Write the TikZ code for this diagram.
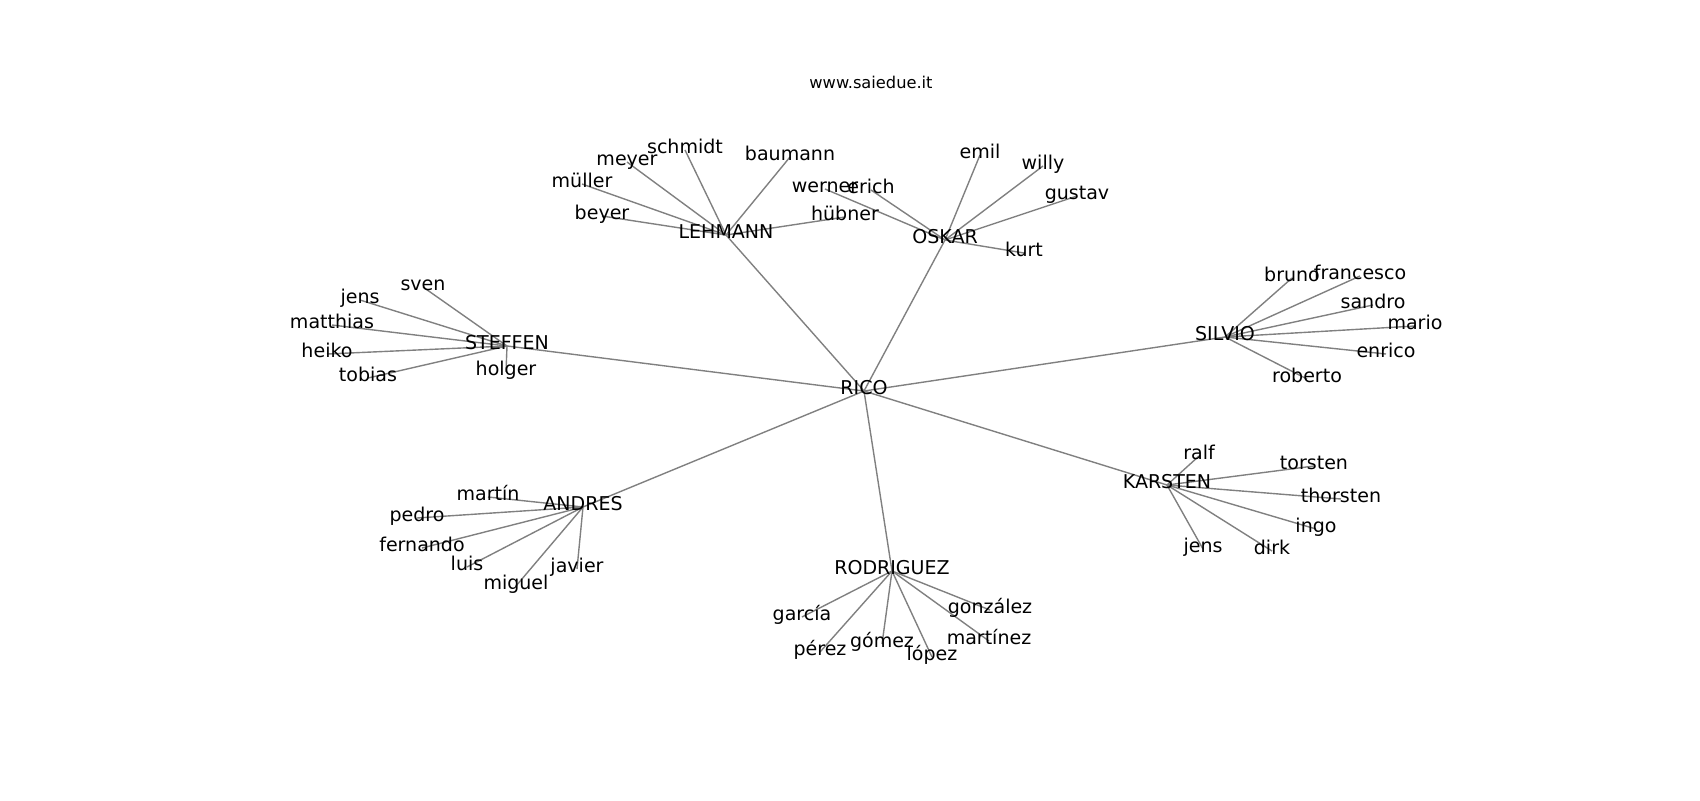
\documentclass[tikz,border=0pt]{standalone}
\usepackage{fontspec}
\setmainfont{DejaVu Sans}
\pgfdeclarelayer{back}
\pgfdeclarelayer{links}
\pgfsetlayers{back,links,main}
\begin{document}
\begin{tikzpicture}[x=0.72pt,y=-0.72pt,
  lbl/.style={font=\fontsize{13.7pt}{16pt}\selectfont, inner sep=0pt, text height=0.76em, text depth=0.24em, anchor=center},
  ttl/.style={font=\fontsize{11.7pt}{14pt}\selectfont, inner sep=0pt, anchor=base},
  link/.style={draw=black!50, line width=1pt}]
\begin{pgfonlayer}{back}
\fill[white] (0,0) rectangle (1700,800);
\end{pgfonlayer}
\useasboundingbox (0,0) rectangle (1700,800);
\node[ttl] (title) at (871,88) {www.saiedue.it};
% hubs
\node[lbl] (rico) at (864,391) {RICO};
\node[lbl] (lehmann) at (726,235) {LEHMANN};
\node[lbl] (oskar) at (945,240) {OSKAR};
\node[lbl] (steffen) at (507,346) {STEFFEN};
\node[lbl] (silvio) at (1225,337) {SILVIO};
\node[lbl] (andres) at (583,507) {ANDRES};
\node[lbl] (rodriguez) at (892,571) {RODRIGUEZ};
\node[lbl] (karsten) at (1167,485) {KARSTEN};
% LEHMANN
\node[lbl] (schmidt) at (685,150) {schmidt};
\node[lbl] (baumann) at (790,157) {baumann};
\node[lbl] (meyer) at (627,162) {meyer};
\node[lbl] (mueller) at (582,184) {müller};
\node[lbl] (beyer) at (602,216) {beyer};
\node[lbl] (huebner) at (845,217) {hübner};
% OSKAR
\node[lbl] (emil) at (980,155) {emil};
\node[lbl] (willy) at (1043,166) {willy};
\node[lbl] (gustav) at (1077,196) {gustav};
\node[lbl] (werner) at (825,189) {werner};
\node[lbl] (erich) at (871,190) {erich};
\node[lbl] (kurt) at (1024,253) {kurt};
% STEFFEN
\node[lbl] (sven) at (423,287) {sven};
\node[lbl] (jensa) at (360,300) {jens};
\node[lbl] (matthias) at (332,325) {matthias};
\node[lbl] (heiko) at (327,354) {heiko};
\node[lbl] (tobias) at (368,378) {tobias};
\node[lbl] (holger) at (506,372) {holger};
% SILVIO
\node[lbl] (bruno) at (1292,278) {bruno};
\node[lbl] (francesco) at (1360,276) {francesco};
\node[lbl] (sandro) at (1373,305) {sandro};
\node[lbl] (mario) at (1415,326) {mario};
\node[lbl] (enrico) at (1386,354) {enrico};
\node[lbl] (roberto) at (1307,379) {roberto};
% ANDRES
\node[lbl] (martin) at (488,497) {martín};
\node[lbl] (pedro) at (417,518) {pedro};
\node[lbl] (fernando) at (422,548) {fernando};
\node[lbl] (luis) at (467,567) {luis};
\node[lbl] (miguel) at (516,586) {miguel};
\node[lbl] (javier) at (577,569) {javier};
% RODRIGUEZ
\node[lbl] (garcia) at (802,617) {garcía};
\node[lbl] (perez) at (820,652) {pérez};
\node[lbl] (gomez) at (882,644) {gómez};
\node[lbl] (lopez) at (932,657) {lópez};
\node[lbl] (gonzalez) at (990,610) {gonzález};
\node[lbl] (martinez) at (989,641) {martínez};
% KARSTEN
\node[lbl] (ralf) at (1199,456) {ralf};
\node[lbl] (torsten) at (1314,466) {torsten};
\node[lbl] (thorsten) at (1341,499) {thorsten};
\node[lbl] (ingo) at (1316,529) {ingo};
\node[lbl] (jensb) at (1203,549) {jens};
\node[lbl] (dirk) at (1272,551) {dirk};
\begin{pgfonlayer}{links}
\foreach \h in {lehmann,oskar,steffen,silvio,andres,rodriguez,karsten}
  \draw[link] (rico.center) -- (\h.center);
\foreach \l in {schmidt,baumann,meyer,mueller,beyer,huebner}
  \draw[link] (lehmann.center) -- (\l.center);
\foreach \l in {emil,willy,gustav,werner,erich,kurt}
  \draw[link] (oskar.center) -- (\l.center);
\foreach \l in {sven,jensa,matthias,heiko,tobias,holger}
  \draw[link] (steffen.center) -- (\l.center);
\foreach \l in {bruno,francesco,sandro,mario,enrico,roberto}
  \draw[link] (silvio.center) -- (\l.center);
\foreach \l in {martin,pedro,fernando,luis,miguel,javier}
  \draw[link] (andres.center) -- (\l.center);
\foreach \l in {garcia,perez,gomez,lopez,gonzalez,martinez}
  \draw[link] (rodriguez.center) -- (\l.center);
\foreach \l in {ralf,torsten,thorsten,ingo,jensb,dirk}
  \draw[link] (karsten.center) -- (\l.center);
\end{pgfonlayer}
\end{tikzpicture}
\end{document}
